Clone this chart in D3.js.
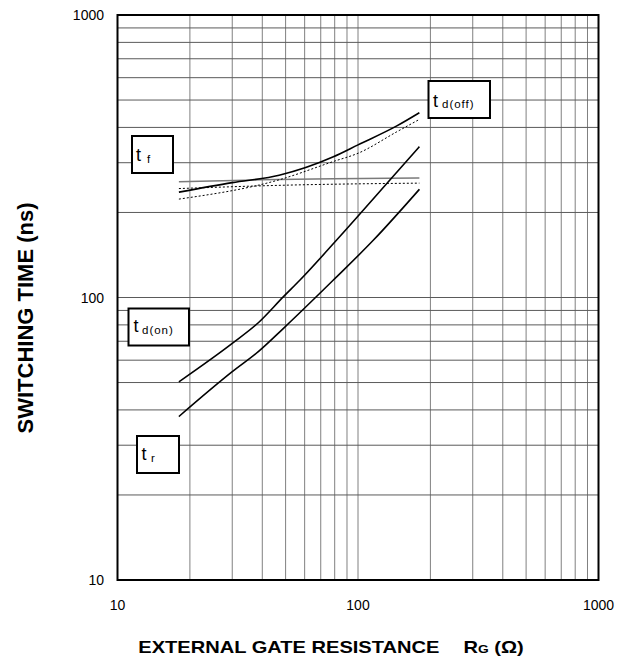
<!DOCTYPE html>
<html><head><meta charset="utf-8">
<script src="https://cdn.jsdelivr.net/npm/d3@7"></script>
<style>body{margin:0;background:#fff}svg{display:block}</style>
</head><body>
<svg id="c" width="632" height="657"></svg>
<script>
// ---- data ----
const xTickLabels = ["10", "100", "1000"];
const yTickLabels = ["10", "100", "1000"];
const tdoffX = [18, 30, 47, 79, 100, 145, 180];
const tdoffY = [236, 255, 271, 315, 347, 405, 451];
const tdoff2X = [18, 47, 79, 100, 145, 180];
const tdoff2Y = [223, 261, 303, 324, 386, 427];
const tfX = [18, 39, 79, 180];
const tfY = [257, 261, 263, 265];
const tf2X = [18, 52, 180];
const tf2Y = [243, 250, 254];
const tdonX = [18, 30, 38.5, 49, 57.4, 81.5, 136, 180];
const tdonY = [50.3, 68.8, 81.4, 100.7, 115.3, 159.7, 261, 342];
const trX = [18, 30, 38.5, 49, 79, 116, 180];
const trY = [37.9, 54.6, 64.3, 77.8, 115.3, 159.7, 241.5];

const svg = d3.select("#c");
const L = 117.5, R = 598.5, T = 15, B = 580;
const x = d3.scaleLog().domain([10, 1000]).range([L, R]);
const y = d3.scaleLog().domain([10, 1000]).range([B, T]);

// grid
const g = svg.append("g");
const minor = [];
[10, 100].forEach(d => { for (let k = 2; k <= 9; k++) minor.push(d * k); });
g.selectAll(".vx").data(minor.concat([100])).enter().append("line")
  .attr("x1", d => x(d)).attr("x2", d => x(d)).attr("y1", T).attr("y2", B)
  .attr("stroke", "#808080").attr("stroke-width", 1);
g.selectAll(".hy").data(minor.concat([100])).enter().append("line")
  .attr("y1", d => y(d)).attr("y2", d => y(d)).attr("x1", L).attr("x2", R)
  .attr("stroke", "#5a5a5a").attr("stroke-width", 1);
svg.append("rect").attr("x", L).attr("y", T).attr("width", R - L).attr("height", B - T)
  .attr("fill", "none").attr("stroke", "#000").attr("stroke-width", 2);

// tick labels
const tickFont = "Liberation Sans, Arial, sans-serif";
svg.selectAll(".yl").data(yTickLabels).enter().append("text")
  .attr("x", 104).attr("y", d => y(+d) + 5).attr("text-anchor", "end")
  .attr("font-family", tickFont).attr("font-size", 14).text(d => d);
svg.selectAll(".xl").data(xTickLabels).enter().append("text")
  .attr("x", d => x(+d)).attr("y", 610).attr("text-anchor", "middle")
  .attr("font-family", tickFont).attr("font-size", 14).text(d => d);

// titles
const xt = svg.append("g").attr("transform", "translate(331,653) scale(1.255,1)")
  .append("text").attr("x", 0).attr("y", 0).attr("text-anchor", "middle")
  .attr("font-family", tickFont).attr("font-size", 16).attr("font-weight", "bold");
xt.append("tspan").text("EXTERNAL GATE RESISTANCE\u2003\u2009R");
xt.append("tspan").attr("font-size", 11).text("G");
xt.append("tspan").text(" (\u03A9)");
svg.append("text").attr("transform", "translate(32.5,318) rotate(-90)").attr("text-anchor", "middle")
  .attr("font-family", tickFont).attr("font-size", 22).attr("font-weight", "bold")
  .text("SWITCHING TIME (ns)");

// curves
const line = d3.line().x(d => x(d[0])).y(d => y(d[1])).curve(d3.curveMonotoneX);
function draw(xs, ys, color, w, dash) {
  svg.append("path").datum(xs.map((v, i) => [v, ys[i]])).attr("d", line)
    .attr("fill", "none").attr("stroke", color).attr("stroke-width", w)
    .attr("stroke-dasharray", dash || null);
}
draw(tfX, tfY, "#7a7a7a", 1.5);
draw(tf2X, tf2Y, "#000", 1, "2,2");
draw(tdoff2X, tdoff2Y, "#000", 1, "2,2");
draw(tdoffX, tdoffY, "#000", 1.6);
draw(tdonX, tdonY, "#000", 1.6);
draw(trX, trY, "#000", 1.6);

// label boxes
function box(x0, y0, w, h, sub, tx, ty, sx) {
  svg.append("rect").attr("x", x0).attr("y", y0).attr("width", w).attr("height", h)
    .attr("fill", "#fff").attr("stroke", "#000").attr("stroke-width", 2);
  svg.append("text").attr("x", tx).attr("y", ty).attr("font-family", tickFont)
    .attr("font-size", 18).text("t");
  svg.append("text").attr("x", sx).attr("y", ty + 1.5).attr("font-family", tickFont)
    .attr("font-size", 11.5).attr("letter-spacing", 1).text(sub);
}
box(132, 136, 41, 37, "f", 136, 161, 147);
box(428.5, 81, 61.5, 37, "d(off)", 433, 106.5, 442);
box(128.5, 308.5, 60.5, 37, "d(on)", 133.5, 332, 142);
box(137, 436, 42, 37, "r", 141.5, 460, 151);
</script>
</body></html>
